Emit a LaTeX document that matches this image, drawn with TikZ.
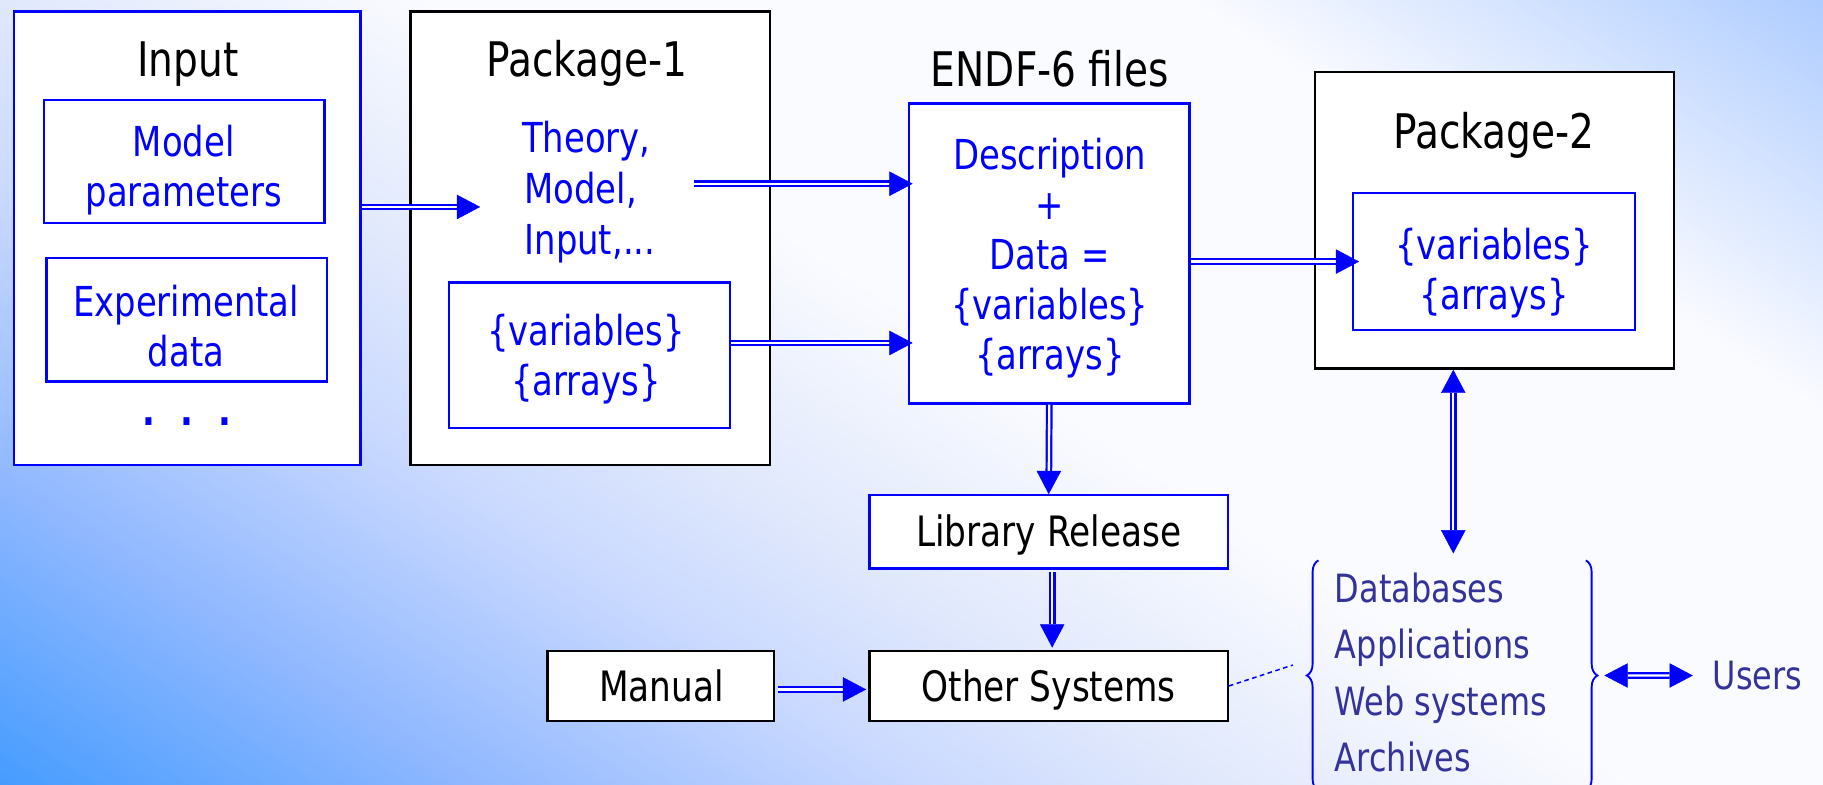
\documentclass[tikz,border=0pt]{standalone}
\usepackage{fontspec}
\setmainfont[FakeStretch=0.82]{DejaVu Sans}
\usetikzlibrary{arrows.meta,decorations.pathreplacing,calc}

\definecolor{lineblue}{RGB}{0,0,255}
\definecolor{textblue}{RGB}{0,0,255}
\definecolor{slate}{RGB}{51,51,153}
% background gradient stops
\definecolor{bgA}{RGB}{61,153,255}
\definecolor{bgB}{RGB}{144,184,255}
\definecolor{bgC}{RGB}{200,216,255}
\definecolor{bgD}{RGB}{224,232,252}
\definecolor{bgE}{RGB}{250,251,255}
\definecolor{bgF}{RGB}{168,200,255}

\begin{document}
\begin{tikzpicture}[x=1pt,y=-1pt,
  >={Triangle[length=20pt,width=21pt,line width=0.4pt]},
  boxB/.style={draw=lineblue, line width=2pt, fill=white, inner sep=0pt},
  boxK/.style={draw=black, line width=2pt, fill=white, inner sep=0pt},
  ttl/.style={font=\fontsize{41}{49}\selectfont, text=black, inner sep=0pt, anchor=base},
  btx/.style={font=\fontsize{35.5}{43}\selectfont, text=textblue, inner sep=0pt, anchor=base},
  ktx/.style={font=\fontsize{36}{43}\selectfont, text=black, inner sep=0pt, anchor=base},
  stx/.style={font=\fontsize{33.5}{48}\selectfont, text=slate, inner sep=0pt, anchor=base west},
  dbl/.style={draw=lineblue, double=white, line width=1.9pt, double distance=2pt, ->},
  dblboth/.style={dbl, <->},
  bracestyle/.style={draw=lineblue, line width=1.6pt, decorate, decoration={brace, amplitude=10pt}},
]
\useasboundingbox (0,0) rectangle (1568,675);

% diagonal background gradient, drawn as thin bands
\begin{scope}
  \clip (0,0) rectangle (1568,675);
  \begin{scope}[rotate=57]
    \foreach \a/\b/\ca/\cb in {-590/-344/bgA/bgB,-344/-144/bgB/bgC,-144/0/bgC/bgD,0/200/bgD/bgE,200/560/bgE/bgE,560/880/bgE/bgF}{
      \foreach \s in {0,2,...,98}{
        \pgfmathsetmacro\ta{(\a)+((\b)-(\a))*(\s/100)}
        \pgfmathsetmacro\tb{(\a)+((\b)-(\a))*((\s+3)/100)}
        \pgfmathsetmacro\mx{99-\s}
        \fill[\ca!\mx!\cb] (\ta,-2500) rectangle (\tb,2500);
      }
    }
  \end{scope}
\end{scope}

% outer boxes
\node[boxB, minimum width=298pt, minimum height=390pt] (inbox) at (161,205) {};
\node[boxK, minimum width=309pt, minimum height=390pt] (pk1) at (507.5,205) {};
\node[boxB, minimum width=241pt, minimum height=258pt] (endf) at (902.5,218) {};
\node[boxK, minimum width=309pt, minimum height=255pt] (pk2) at (1285.5,189.5) {};

% inner boxes
\node[boxB, minimum width=241pt, minimum height=106pt] (mp) at (158.5,139) {};
\node[boxB, minimum width=241pt, minimum height=106pt] (ed) at (160.5,275) {};
\node[boxB, minimum width=242pt, minimum height=125pt] (vars1) at (507,305.5) {};
\node[boxB, minimum width=242pt, minimum height=118pt] (vars2) at (1285,225) {};

% lower boxes
\node[boxB, minimum width=308pt, minimum height=63pt] (lib) at (902,457.5) {};
\node[boxK, minimum width=308pt, minimum height=60pt] (other) at (902,590) {};
\node[boxK, minimum width=195pt, minimum height=60pt] (manual) at (568.5,590) {};

% titles
\node[ttl] (inTitle) at (161.5,66) {Input};
\node[ttl] (pk1Title) at (505,66) {Package-1};
\node[ttl] (endfTitle) at (903,74.5) {ENDF-6 files};
\node[ttl] (pk2Title) at (1285,128) {Package-2};

% input contents
\node[btx] (mpA) at (158,135) {Model};
\node[btx] (mpB) at (158,178) {parameters};
\node[btx] (edA) at (160,272) {Experimental};
\node[btx] (edB) at (160,315) {data};
\node[btx, font=\fontsize{35.5}{43}\selectfont\bfseries] (dots) at (161,366) {.\hspace{21.5pt}.\hspace{21.5pt}.};

% package-1 contents
\node[btx, anchor=base west] (thA) at (449,131) {Theory,};
\node[btx, anchor=base west] (thB) at (451,175) {Model,};
\node[btx, anchor=base west] (thC) at (451,219) {Input,...};
\node[btx] (v1A) at (504,297) {\{variables\}};
\node[btx] (v1B) at (504,340) {\{arrays\}};

% ENDF-6 contents
\node[btx] (enA) at (903,146) {Description};
\node[btx] (enB) at (903,189) {+};
\node[btx] (enC) at (903,232) {Data =};
\node[btx] (enD) at (903,275) {\{variables\}};
\node[btx] (enE) at (903,318) {\{arrays\}};

% package-2 contents
\node[btx] (v2A) at (1285,223) {\{variables\}};
\node[btx] (v2B) at (1285,266) {\{arrays\}};

% lower box labels
\node[ktx] (libT) at (902,470) {Library Release};
\node[ktx] (othT) at (902,603) {Other Systems};
\node[ktx] (manT) at (569,603) {Manual};

% distribution list
\node[stx] (dbA) at (1148,518) {Databases};
\node[stx] (dbB) at (1148,566) {Applications};
\node[stx] (dbC) at (1148,615) {Web systems};
\node[stx] (dbD) at (1148,664) {Archives};
\node[stx] (users) at (1473,593) {Users};

\draw[bracestyle] (1134,680) -- (1134,482);
\draw[bracestyle] (1364,482) -- (1364,680);

% connector end points
\coordinate (inTip) at (413,178);
\coordinate (thOut) at (597,158);
\coordinate (v1Out) at ([yshift=10.5pt]vars1.east);
\coordinate (dbTop) at (1250,476);
\coordinate (lbTip) at (1112,572);
\coordinate (rbTip) at (1380,581);

% connectors
\draw[dbl] (inbox.east |- inTip) -- (inTip);
\draw[dbl, shorten >=-4pt] (thOut) -- (thOut -| endf.west);
\draw[dbl, shorten >=-4pt] (v1Out) -- (v1Out -| endf.west);
\draw[dbl, shorten >=-6pt] (endf.east |- vars2.west) -- (vars2.west);
\draw[dbl] (endf.south) -- (lib.north);
\draw[dbl, shorten <=2pt, shorten >=2pt] ([xshift=3pt]lib.south) -- ([xshift=3pt]other.north);
\draw[dbl, shorten <=2pt, shorten >=2pt] ([yshift=-3pt]manual.east) -- ([yshift=-3pt]other.west);
\draw[dblboth] (dbTop |- pk2.south) -- (dbTop);
\draw[dblboth, shorten >=17pt] (rbTip) -- (users.west);
\draw[lineblue, line width=1.3pt, dash pattern=on 4pt off 3pt] (other.east) -- (lbTip);
\end{tikzpicture}
\end{document}
